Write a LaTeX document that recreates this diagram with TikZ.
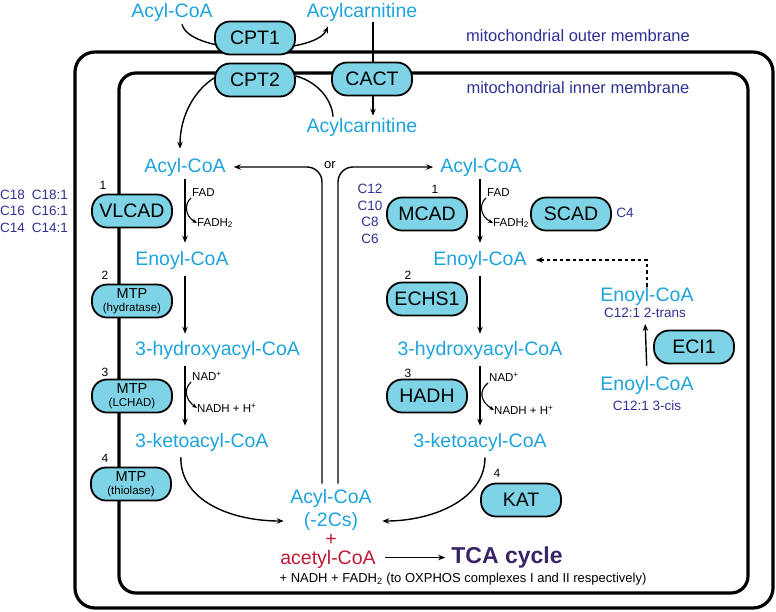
\documentclass[tikz,border=0pt]{standalone}
\usepackage{fontspec}
\setmainfont{Liberation Sans}
\usetikzlibrary{arrows.meta}
\definecolor{cyantext}{RGB}{30,163,220}
\definecolor{boxfill}{RGB}{126,212,230}
\definecolor{darkblue}{RGB}{46,49,146}
\definecolor{tcapurple}{RGB}{58,36,104}
\definecolor{acetred}{RGB}{192,24,52}
\pgfdeclarelayer{bg}
\pgfsetlayers{bg,main}
\begin{document}
\begin{tikzpicture}[x=1pt,y=-1pt,
  font=\fontsize{19.5}{22}\selectfont,
  met/.style={text=cyantext, inner sep=1pt},
  enz/.style={draw=black, line width=1.8pt, fill=boxfill, rounded corners=15pt,
    minimum width=80pt, minimum height=33pt, inner sep=0pt, align=center},
  mtp/.style={enz, font=\fontsize{14.5}{14.5}\selectfont},
  lbl/.style={text=darkblue, font=\fontsize{13.5}{16.5}\selectfont, inner sep=0pt, align=center},
  num/.style={font=\fontsize{12}{14}\selectfont, inner sep=0pt},
  cof/.style={font=\fontsize{11.5}{13}\selectfont, inner sep=0pt, anchor=west},
  arr/.style={line width=1.4pt, -{Stealth[length=7pt,width=5.5pt]}},
  sarr/.style={line width=1.1pt, -{Stealth[length=5pt,width=4pt]}},
  ln/.style={line width=1.4pt},
  mem/.style={line width=3.2pt},
]
\useasboundingbox (0,0) rectangle (776,611);

% ---------- top ----------
\node[met] (acylT) at (172,12) {Acyl-CoA};
\node[met] (carnT) at (362,12) {Acylcarnitine};
\node[met] (carnM) at (362,127) {Acylcarnitine};
\node[enz] (cpt1) at (255,38) {CPT1};
\node[enz] (cpt2) at (255,80) {CPT2};
\node[enz] (cact) at (372,79) {CACT};
\node[lbl, font=\fontsize{16.5}{18}\selectfont] (outerlbl) at (578,36) {mitochondrial outer membrane};
\node[lbl, font=\fontsize{16.5}{18}\selectfont] (innerlbl) at (578,88) {mitochondrial inner membrane};

% ---------- left column ----------
\node[met] (acylL) at (185,167) {Acyl-CoA};
\node[met] (enoylL) at (182,260) {Enoyl-CoA};
\node[met, anchor=west] (hydL) at (134,350) {3-hydroxyacyl-CoA};
\node[met, anchor=west] (ketoL) at (134,442) {3-ketoacyl-CoA};
\node[cof] (fadL) at (192,193) {FAD};
\node[cof] (fadhL) at (197,223) {FADH\textsubscript{2}};
\node[cof] (nadL) at (192,376) {NAD\textsuperscript{+}};
\node[cof] (nadhL) at (197,408) {NADH + H\textsuperscript{+}};
\node[enz] (vlcad) at (132,211) {VLCAD};
\node[mtp] (mtp2) at (132,301) {MTP\\[-2pt]{\fontsize{11.5}{12}\selectfont (hydratase)}};
\node[mtp] (mtp3) at (132,396) {MTP\\[-2pt]{\fontsize{11.5}{12}\selectfont (LCHAD)}};
\node[mtp] (mtp4) at (131,484) {MTP\\[-2pt]{\fontsize{11.5}{12}\selectfont (thiolase)}};
\node[num] (n1L) at (103,185) {1};
\node[num] (n2L) at (105,275) {2};
\node[num] (n3L) at (105,372) {3};
\node[num] (n4L) at (105,458) {4};
\node[lbl] (clong) at (34,211) {C18\hspace{7pt}C18:1\\C16\hspace{7pt}C16:1\\C14\hspace{7pt}C14:1};

% ---------- middle ----------
\node[num, font=\fontsize{13}{14}\selectfont] (or) at (330,165) {or};
\node[met] (acylm) at (331,498) {Acyl-CoA};
\node[met, inner sep=0pt] (cs2) at (331,521) {(-2Cs)};
\node[inner sep=0pt, text=acetred, text height=8pt, text depth=0pt] (plus) at (331,541) {+};
\node[inner sep=0pt, text=acetred] (acet) at (328,559.5) {acetyl-CoA};
\node[inner sep=1pt, text=tcapurple, font=\bfseries\fontsize{23}{25}\selectfont] (tca) at (507,557.5) {TCA cycle};
\node[inner sep=0pt, font=\fontsize{13}{15}\selectfont] (oxphos) at (463,579) {+ NADH + FADH\textsubscript{2} (to OXPHOS complexes I and II respectively)};

% ---------- right column ----------
\node[met] (acylR) at (481,167) {Acyl-CoA};
\node[met] (enoylR) at (480,260) {Enoyl-CoA};
\node[met] (hydR) at (480,350) {3-hydroxyacyl-CoA};
\node[met] (ketoR) at (480,442) {3-ketoacyl-CoA};
\node[cof] (fadR) at (487,193) {FAD};
\node[cof] (fadhR) at (493,223) {FADH\textsubscript{2}};
\node[cof] (nadR) at (489,377) {NAD\textsuperscript{+}};
\node[cof] (nadhR) at (494,410) {NADH + H\textsuperscript{+}};
\node[enz] (mcad) at (427,214) {MCAD};
\node[enz] (scad) at (571,214) {SCAD};
\node[enz] (echs1) at (427,299) {ECHS1};
\node[enz] (hadh) at (427,396) {HADH};
\node[enz] (kat) at (521,500) {KAT};
\node[num] (n1R) at (435,189) {1};
\node[num] (n2R) at (408,275) {2};
\node[num] (n3R) at (408,373) {3};
\node[num] (n4R) at (497,473) {4};
\node[lbl] (cmed) at (370,214) {C12\\C10\\C8\\C6};
\node[lbl] (c4) at (625,213) {C4};
\node[met] (enoyl2) at (647,296) {Enoyl-CoA};
\node[lbl] (trans) at (645,313) {C12:1 2-trans};
\node[enz] (eci1) at (694,347) {ECI1};
\node[met] (enoyl3) at (647,385) {Enoyl-CoA};
\node[lbl] (cis) at (647,406) {C12:1 3-cis};

% ---------- background: membranes and crossing connectors ----------
\begin{pgfonlayer}{bg}
\draw[mem, rounded corners=20pt] (75,52) rectangle (773,608);
\draw[mem, rounded corners=17pt] (119,73) rectangle (748,593);
\draw[arr] ([xshift=10pt,yshift=-2pt]acylT.south) .. controls (190,56) and (315,56) .. ([xshift=-34pt,yshift=-4pt]carnT.south);
\draw[arr] ([xshift=11pt]carnT.south) -- ([xshift=11pt,yshift=1pt]carnM.north);
\end{pgfonlayer}

% ---------- connectors ----------
\draw[arr, shorten >=8pt] ([yshift=2pt]cpt2.west) .. controls (195,90) and (180,115) .. ([xshift=-5pt]acylL.north);
\draw[ln] ([yshift=4pt]cpt2.east) .. controls (318,82) and (332,100) .. ([xshift=-29pt]carnM.north);

% left column
\draw[arr, shorten <=2pt, shorten >=7pt] (acylL.south) -- (acylL.south |- enoylL.north);
\draw[arr, shorten <=6pt, shorten >=6pt] (acylL.south |- enoylL.south) -- (acylL.south |- hydL.north);
\draw[arr, shorten <=6pt, shorten >=6pt] (acylL.south |- hydL.south) -- (acylL.south |- ketoL.north);
\draw[sarr] ([shift={(-1pt,-5pt)}]fadL.west) .. controls (184,204) and (185,216) .. (fadhL.west);
\draw[sarr] ([shift={(-1pt,-6pt)}]nadL.west) .. controls (183,390) and (186,400) .. (nadhL.west);

% right column
\draw[arr, shorten <=2pt, shorten >=7pt] ([xshift=-1pt]acylR.south) -- ([xshift=-1pt]acylR.south |- enoylR.north);
\draw[arr, shorten <=6pt, shorten >=6pt] (enoylR.south) -- (hydR.north);
\draw[arr, shorten <=6pt, shorten >=6pt] (hydR.south) -- (ketoR.north);
\draw[sarr] ([shift={(-1pt,-5pt)}]fadR.west) .. controls (479,204) and (480,216) .. (fadhR.west);
\draw[sarr] ([shift={(-1pt,-6pt)}]nadR.west) .. controls (478,391) and (481,402) .. (nadhR.west);

% "or" branches
\draw[arr, rounded corners=15pt, shorten >=7pt] ([xshift=-9pt,yshift=4pt]acylm.north) |- (acylL.east);
\draw[arr, rounded corners=15pt, shorten >=6pt] ([xshift=7pt,yshift=4pt]acylm.north) |- (acylR.west);

% thiolase curves
\draw[arr] ([shift={(-21pt,-5pt)}]ketoL.south) .. controls (180,500) and (230,521) .. ([xshift=-20pt]cs2.west);
\draw[arr] ([shift={(5pt,-5pt)}]ketoR.south) .. controls (485,500) and (432,521) .. ([xshift=24pt]cs2.east);

% TCA
\draw[arr, shorten <=9pt, shorten >=5pt] ([yshift=2pt]acet.east) -- ([yshift=2pt]acet.east -| tca.west);

% ECI1 branch
\draw[arr, shorten <=9pt, shorten >=6pt] (enoyl3.north) -- (trans.south);
\draw[line width=1.4pt, dash pattern=on 3.5pt off 3pt, -{Stealth[length=7pt,width=5.5pt]}, shorten <=-1pt, shorten >=8pt] (enoyl2.north) |- (enoylR.east);
\end{tikzpicture}
\end{document}
